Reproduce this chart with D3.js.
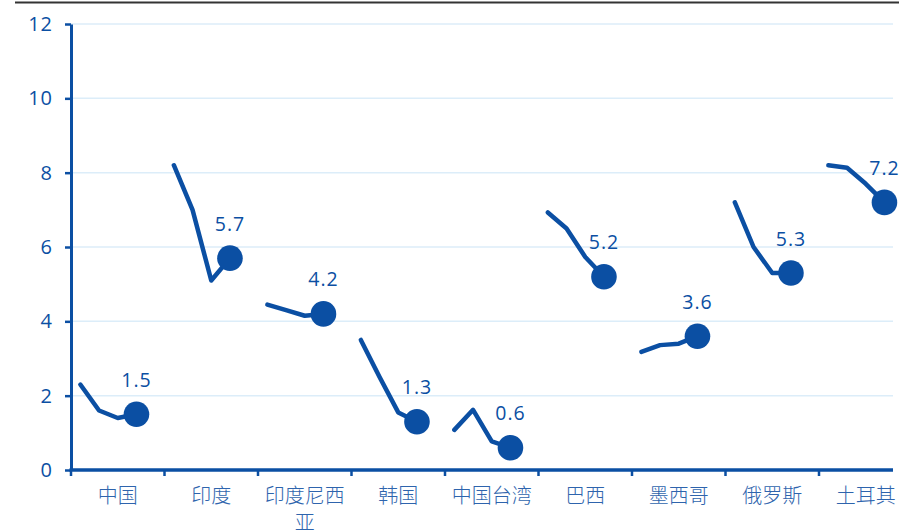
<!DOCTYPE html>
<html>
<head>
<meta charset="utf-8">
<script src="https://cdn.jsdelivr.net/npm/d3@7"></script>
<style>
  html, body { margin: 0; padding: 0; background: #fff; }
  svg { display: block; }
</style>
</head>
<body>
<svg id="chart" width="899" height="531"></svg>
<script>
// Markets shown along the x axis
const categories = ["中国", "印度", "印度尼西亚", "韩国", "中国台湾", "巴西", "墨西哥", "俄罗斯", "土耳其"];
// Four successive readings per market; the last one is the labelled dot
const period1 = [2.3, 8.2, 4.45, 3.5, 1.08, 6.93, 3.18, 7.2, 8.2];
const period2 = [1.6, 7.0, 4.3, 2.5, 1.62, 6.5, 3.36, 6.0, 8.13];
const period3 = [1.4, 5.1, 4.15, 1.55, 0.77, 5.73, 3.4, 5.3, 7.7];
const latest  = [1.5, 5.7, 4.2, 1.3, 0.6, 5.2, 3.6, 5.3, 7.2];
const yTicks = [0, 2, 4, 6, 8, 10, 12];

const blue = "#0b4fa3";
const labelBlue = "#2e64ad";
const grid = "#dcedf9";

const svg = d3.select("#chart");

const plotLeft = 71, plotTop = 24, plotBottom = 470, bandW = 93.5, axisEnd = 893;

const x = d3.scaleBand()
  .domain(categories)
  .range([plotLeft, plotLeft + bandW * categories.length])
  .padding(0);

// five slots per market; the four readings use the first four
const slot = d3.scaleBand().domain([0, 1, 2, 3, 4]).range([0, x.bandwidth()]);

const y = d3.scaleLinear().domain([0, 12]).range([plotBottom, plotTop]);

// header rule
svg.append("line")
  .attr("x1", 15).attr("x2", 899).attr("y1", 2.5).attr("y2", 2.5)
  .attr("stroke", "#333").attr("stroke-width", 2);

// gridlines
svg.append("g").selectAll("line").data(yTicks.filter(d => d > 0)).join("line")
  .attr("x1", plotLeft).attr("x2", axisEnd)
  .attr("y1", d => y(d)).attr("y2", d => y(d))
  .attr("stroke", grid).attr("stroke-width", 1.5);

// y axis
const yAxis = svg.append("g")
  .attr("transform", `translate(${plotLeft},0)`)
  .call(d3.axisLeft(y).tickValues(yTicks).tickSize(6).tickPadding(12).tickSizeOuter(0));
yAxis.select(".domain").attr("stroke", blue).attr("stroke-width", 3);
yAxis.selectAll(".tick line").attr("stroke", blue).attr("stroke-width", 2.5);
yAxis.selectAll(".tick text")
  .attr("fill", blue)
  .style("font-family", "'Open Sans', sans-serif")
  .style("font-size", "20px")
  .style("letter-spacing", "1px");

// x axis line and category ticks
svg.append("line")
  .attr("x1", plotLeft - 1.5).attr("x2", axisEnd)
  .attr("y1", plotBottom).attr("y2", plotBottom)
  .attr("stroke", blue).attr("stroke-width", 3.5);

svg.append("g").selectAll("line")
  .data(categories.map(c => x(c)).filter(v => v <= axisEnd))
  .join("line")
  .attr("x1", d => d).attr("x2", d => d)
  .attr("y1", plotBottom).attr("y2", plotBottom + 6)
  .attr("stroke", blue).attr("stroke-width", 2.5);

// category labels, wrapped to the band width
const xLabels = svg.append("g")
  .style("font-family", "'Noto Sans CJK SC', sans-serif")
  .style("font-size", "20px")
  .style("font-weight", 300)
  .attr("fill", labelBlue)
  .attr("text-anchor", "middle");

categories.forEach(c => {
  const cx = x(c) + x.bandwidth() / 2;
  const t = xLabels.append("text").attr("x", cx).attr("y", 503);
  const chars = Array.from(c);
  let line = "";
  let tspan = t.append("tspan").attr("x", cx).attr("dy", 0);
  chars.forEach(ch => {
    tspan.text(line + ch);
    if (tspan.node().getComputedTextLength() > x.bandwidth() - 4 && line.length) {
      tspan.text(line);
      line = ch;
      tspan = t.append("tspan").attr("x", cx).attr("dy", "1.35em").text(line);
    } else {
      line += ch;
    }
  });
});

// readings per market
const rows = categories.map((c, i) => ({
  cat: c,
  pts: [period1[i], period2[i], period3[i], latest[i]]
}));

const marks = svg.append("g");
rows.forEach(r => {
  const px = j => x(r.cat) + slot(j) + slot.bandwidth() / 2;
  const gen = d3.line().x((d, j) => px(j)).y(d => y(d));
  marks.append("path")
    .attr("d", gen(r.pts))
    .attr("fill", "none")
    .attr("stroke", blue)
    .attr("stroke-width", 4.5)
    .attr("stroke-linecap", "round")
    .attr("stroke-linejoin", "round");
  const last = r.pts[3];
  marks.append("circle")
    .attr("cx", px(3)).attr("cy", y(last)).attr("r", 12.8)
    .attr("fill", blue);
  marks.append("text")
    .attr("x", px(3)).attr("y", y(last) - 27.5)
    .attr("text-anchor", "middle")
    .attr("fill", blue)
    .style("font-family", "'Open Sans', sans-serif")
    .style("font-size", "19.5px")
    .style("letter-spacing", "1px")
    .text(d3.format(".1f")(last));
});
</script>
</body>
</html>
